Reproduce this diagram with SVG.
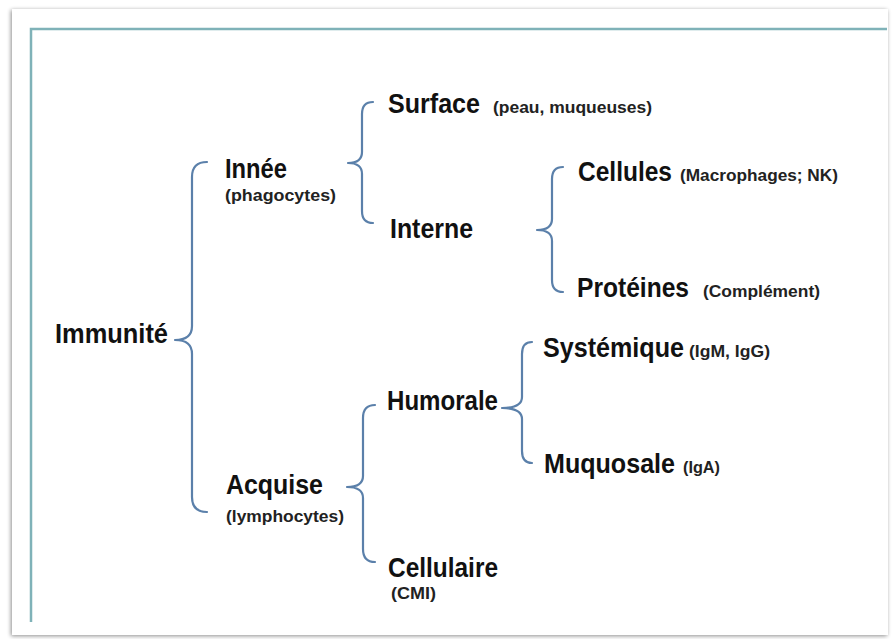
<svg xmlns="http://www.w3.org/2000/svg" width="893" height="639" viewBox="0 0 893 639">
<defs>
<filter id="sh" x="-5%" y="-5%" width="110%" height="110%">
<feGaussianBlur in="SourceAlpha" stdDeviation="2"/>
<feOffset dx="-1" dy="1"/>
<feComponentTransfer><feFuncA type="linear" slope="0.45"/></feComponentTransfer>
<feMerge><feMergeNode/><feMergeNode in="SourceGraphic"/></feMerge>
</filter>
</defs>
<style>
.m{font-family:"Liberation Sans",Arial,sans-serif;font-weight:bold;font-size:27px;fill:#111}
.s{font-family:"Liberation Sans",Arial,sans-serif;font-weight:bold;font-size:16px;fill:#222}
.b{fill:none;stroke:#5b80aa;stroke-width:2.2;stroke-linecap:round;stroke-linejoin:round}
</style>
<rect width="893" height="639" fill="#fff"/>
<rect x="12" y="9" width="876" height="626" fill="#fff" filter="url(#sh)"/>
<path d="M31,622 V29 H887" fill="none" stroke="#7fb2b8" stroke-width="2.5"/>
<g id="connectors">
<path class="b" d="M207,162 Q192,162 192,177 L192,326 Q192,340 175,340 Q192,340 192,354 L192,497 Q192,512 207,512"/>
<path class="b" d="M373,102 Q362,102 362,114 L362,152 Q362,163 348,163 Q362,163 362,174 L362,211 Q362,223 373,223"/>
<path class="b" d="M563,167 Q552,167 552,179 L552,219 Q552,230 537,230 Q552,230 552,241 L552,280 Q552,292 563,292"/>
<path class="b" d="M532,342 Q522,342 522,354 L522,397 Q522,408 502,408 Q522,408 522,419 L522,451 Q522,463 532,463"/>
<path class="b" d="M375,405 Q363,405 363,418 L363,476 Q363,487 347,487 Q363,487 363,498 L363,549 Q363,562 375,562"/>
</g>
<g id="immunite"><text class="m" x="55" y="343" textLength="113" lengthAdjust="spacingAndGlyphs">Immunité</text></g>
<g id="innee"><text class="m" x="225" y="178" textLength="62" lengthAdjust="spacingAndGlyphs">Innée</text>
<text class="s" x="225" y="201" textLength="111" lengthAdjust="spacingAndGlyphs">(phagocytes)</text></g>
<g id="surface"><text class="m" x="388" y="113" textLength="92" lengthAdjust="spacingAndGlyphs">Surface</text>
<text class="s" x="493" y="113" textLength="159" lengthAdjust="spacingAndGlyphs">(peau, muqueuses)</text></g>
<g id="interne"><text class="m" x="390" y="238" textLength="83" lengthAdjust="spacingAndGlyphs">Interne</text></g>
<g id="cellules"><text class="m" x="578" y="181" textLength="94" lengthAdjust="spacingAndGlyphs">Cellules</text>
<text class="s" x="680" y="181" textLength="158" lengthAdjust="spacingAndGlyphs">(Macrophages; NK)</text></g>
<g id="proteines"><text class="m" x="577" y="297" textLength="112" lengthAdjust="spacingAndGlyphs">Protéines</text>
<text class="s" x="703" y="297" textLength="117" lengthAdjust="spacingAndGlyphs">(Complément)</text></g>
<g id="systemique"><text class="m" x="543" y="357" textLength="141" lengthAdjust="spacingAndGlyphs">Systémique</text>
<text class="s" x="689" y="357" textLength="81" lengthAdjust="spacingAndGlyphs">(IgM, IgG)</text></g>
<g id="humorale"><text class="m" x="387" y="410" textLength="111" lengthAdjust="spacingAndGlyphs">Humorale</text></g>
<g id="muquosale"><text class="m" x="544" y="473" textLength="131" lengthAdjust="spacingAndGlyphs">Muquosale</text>
<text class="s" x="683" y="473" textLength="37" lengthAdjust="spacingAndGlyphs">(IgA)</text></g>
<g id="acquise"><text class="m" x="226" y="494" textLength="97" lengthAdjust="spacingAndGlyphs">Acquise</text>
<text class="s" x="226" y="522" textLength="118" lengthAdjust="spacingAndGlyphs">(lymphocytes)</text></g>
<g id="cellulaire"><text class="m" x="388" y="577" textLength="110" lengthAdjust="spacingAndGlyphs">Cellulaire</text>
<text class="s" x="391" y="599" textLength="45" lengthAdjust="spacingAndGlyphs">(CMI)</text></g>
</svg>
